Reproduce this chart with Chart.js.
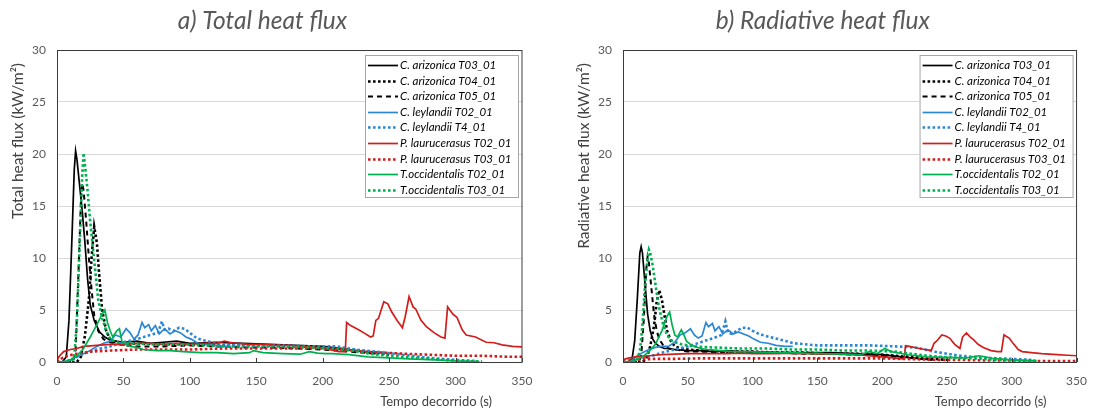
<!DOCTYPE html>
<html>
<head>
<meta charset="utf-8">
<script src="https://cdn.jsdelivr.net/npm/chart.js@4.4.1/dist/chart.umd.min.js"></script>
<style>
  html, body { margin: 0; padding: 0; background: #fff; }
  #wrap { position: relative; width: 1099px; height: 412px; overflow: hidden; }
  #wrap canvas { position: absolute; top: 0; }
</style>
</head>
<body>
<div id="wrap">
  <canvas id="chartTotal" width="550" height="412" style="left:0"></canvas>
  <canvas id="chartRad" width="549" height="412" style="left:550px"></canvas>
</div>
<script>
// heat flux curves: time (s), total and radiative flux (kW/m2)
const seriesLabels = [
  "C. arizonica T03_01", "C. arizonica T04_01", "C. arizonica T05_01",
  "C. leylandii T02_01", "C. leylandii T4_01",
  "P. laurucerasus T02_01", "P. laurucerasus T03_01",
  "T.occidentalis T02_01", "T.occidentalis T03_01"
];

const tArizT03 = [0, 4, 7, 9, 11, 13, 14, 15, 17, 19, 21, 23, 25, 28, 32, 36, 40, 50, 60, 70, 80, 90, 100, 120, 140, 160, 180, 200, 215, 230, 240];
const totArizT03 = [0, 0, 0.5, 4, 11, 18.5, 20.3, 19.5, 17, 14.5, 11.5, 8, 5.5, 4.0, 2.9, 2.4, 2.1, 1.9, 2.0, 1.8, 1.9, 2.0, 1.8, 1.9, 1.8, 1.7, 1.6, 1.5, 1.3, 1.0, 0.8];
const radArizT03 = [0, 0, 0.3, 2, 6, 10.5, 11.1, 10.5, 7.5, 4.6, 3.0, 2.2, 1.8, 1.5, 1.3, 1.3, 1.2, 1.1, 1.1, 1.0, 1.1, 1.0, 1.0, 0.9, 0.9, 0.9, 0.8, 0.7, 0.5, 0.3, 0.2];

const tArizT04 = [0, 15, 18, 21, 24, 26, 28, 30, 32, 34, 37, 40, 45, 50, 60, 80, 100, 120, 140, 160, 180, 200, 220, 240, 250];
const totArizT04 = [0, 0, 0.5, 2.5, 6, 10, 13, 11.5, 8, 5, 3, 2.2, 1.8, 1.7, 1.8, 1.7, 1.7, 1.6, 1.7, 1.6, 1.5, 1.4, 1.2, 0.9, 0.7];
const radArizT04 = [0, 0, 0.3, 1.5, 3.5, 5.8, 6.9, 6.0, 4.5, 3.0, 2.0, 1.5, 1.3, 1.2, 1.1, 1.0, 1.0, 0.9, 0.9, 0.8, 0.8, 0.7, 0.5, 0.3, 0.2];

const tArizT05 = [0, 12, 14, 16, 18, 19, 20, 22, 24, 26, 28, 31, 35, 40, 50, 60, 80, 100, 120, 140, 160, 180, 200, 220, 240];
const totArizT05 = [0, 0, 1, 8, 15.5, 17.2, 16.5, 13.5, 10, 7, 4.5, 3, 2.2, 1.9, 1.6, 1.5, 1.5, 1.6, 1.5, 1.4, 1.4, 1.3, 1.2, 1.0, 0.8];
const radArizT05 = [0, 0, 0.5, 4, 9, 10.1, 9.5, 7, 4.5, 3, 2.2, 1.6, 1.3, 1.2, 1.0, 1.0, 0.9, 0.9, 0.9, 0.8, 0.8, 0.7, 0.6, 0.4, 0.2];

const tLeyT02 = [0, 5, 10, 15, 20, 25, 30, 35, 40, 44, 48, 52, 55, 58, 61, 64, 66, 69, 71, 74, 77, 81, 85, 89, 93, 97, 101, 106, 112, 118, 125, 131];
const totLeyT02 = [0, 0, 0.2, 0.5, 0.8, 1.1, 1.5, 1.8, 2.0, 2.6, 2.4, 3.2, 2.8, 2.2, 2.6, 3.8, 3.3, 3.6, 3.0, 3.5, 2.7, 3.2, 2.7, 3.0, 2.8, 2.4, 2.2, 1.8, 1.7, 1.6, 1.5, 1.4];
const radLeyT02 = [0, 0, 0.5, 0.9, 1.2, 1.4, 1.5, 1.5, 1.9, 2.6, 2.8, 3.2, 2.6, 2.3, 2.5, 3.8, 3.4, 3.7, 3.0, 3.4, 2.7, 3.1, 2.7, 2.9, 2.7, 2.5, 2.2, 1.9, 1.8, 1.6, 1.5, 1.5];

const tLeyT4 = [0, 5, 10, 20, 30, 40, 50, 60, 70, 76, 79, 81, 84, 88, 92, 96, 100, 105, 110, 120, 132, 150, 170, 190, 210, 225, 240, 260, 280, 300, 315];
const totLeyT4 = [0, 0, 0.2, 0.8, 1.2, 1.5, 1.9, 2.2, 2.6, 2.8, 3.9, 3.1, 3.2, 3.0, 3.3, 3.2, 2.8, 2.3, 2.1, 1.8, 1.6, 1.6, 1.6, 1.5, 1.5, 1.2, 1.0, 0.7, 0.4, 0.2, 0.1];
const radLeyT4 = [0, 0, 0.2, 0.5, 0.9, 1.2, 1.5, 1.9, 2.3, 2.6, 3.9, 2.8, 2.7, 3.0, 3.3, 3.3, 3.0, 2.7, 2.5, 2.2, 1.8, 1.6, 1.6, 1.6, 1.5, 1.4, 1.0, 0.6, 0.4, 0.3, 0.2];

const tLauT02 = [0, 2, 5, 10, 15, 20, 30, 40, 50, 60, 70, 80, 90, 100, 110, 120, 126, 130, 135, 145, 155, 165, 175, 185, 195, 205, 212, 217, 218, 221, 227, 231, 236, 238, 240, 242, 246, 249, 252, 256, 260, 262, 265, 268, 270, 274, 278, 284, 289, 292, 294, 298, 301, 305, 308, 315, 323, 329, 335, 343, 350];
const totLauT02 = [0.2, 0.6, 1.0, 1.2, 1.3, 1.5, 1.6, 1.7, 1.7, 1.8, 1.8, 1.7, 1.8, 1.7, 1.8, 1.8, 2.0, 1.9, 1.8, 1.7, 1.7, 1.6, 1.6, 1.5, 1.4, 1.2, 1.0, 1.0, 3.8, 3.5, 3.1, 2.8, 2.4, 2.5, 4.0, 4.2, 5.8, 5.6, 4.8, 4.0, 3.3, 4.3, 6.3, 5.3, 5.1, 4.0, 3.4, 2.8, 2.4, 2.3, 5.3, 4.6, 4.3, 3.1, 2.6, 2.4, 1.9, 1.85, 1.65, 1.5, 1.45];
const radLauT02 = [0.2, 0.3, 0.4, 0.5, 0.55, 0.6, 0.7, 0.75, 0.8, 0.8, 0.8, 0.8, 0.85, 0.8, 0.8, 0.8, 0.85, 0.8, 0.8, 0.8, 0.75, 0.75, 0.7, 0.65, 0.55, 0.45, 0.35, 0.3, 1.57, 1.5, 1.35, 1.25, 1.15, 1.15, 1.8, 2.0, 2.6, 2.5, 2.3, 1.7, 1.3, 2.4, 2.8, 2.4, 2.2, 1.7, 1.4, 1.1, 1.0, 1.0, 2.6, 2.3, 1.8, 1.2, 1.0, 0.9, 0.8, 0.75, 0.7, 0.65, 0.6];

const tLauT03 = [0, 3, 8, 15, 25, 40, 60, 80, 100, 125, 150, 175, 200, 215, 230, 245, 260, 280, 300, 320, 340, 350];
const totLauT03 = [0, 0.3, 0.6, 0.8, 1.0, 1.1, 1.2, 1.2, 1.2, 1.3, 1.3, 1.3, 1.3, 1.2, 1.0, 0.9, 0.8, 0.7, 0.6, 0.6, 0.5, 0.5];
const radLauT03 = [0, 0.1, 0.2, 0.25, 0.3, 0.3, 0.35, 0.35, 0.35, 0.35, 0.35, 0.35, 0.35, 0.3, 0.25, 0.2, 0.2, 0.15, 0.15, 0.1, 0.1, 0.1];

const tOccT02 = [0, 5, 10, 15, 20, 25, 30, 34, 36, 38, 40, 42, 45, 47, 49, 52, 55, 60, 65, 75, 85, 95, 108, 120, 133, 145, 148, 155, 170, 183, 190, 196, 202, 207, 220, 234, 250, 265, 275, 285, 300, 318];
const totOccT02 = [0, 0, 0.2, 0.6, 1.3, 2.4, 3.6, 4.6, 5.0, 3.8, 3.0, 2.4, 3.0, 3.2, 1.9, 1.7, 1.5, 1.4, 1.2, 1.1, 1.1, 1.0, 0.9, 0.9, 0.8, 0.9, 1.1, 0.9, 0.8, 0.75, 1.0, 0.85, 0.8, 0.8, 0.7, 0.5, 0.4, 0.3, 0.25, 0.2, 0.1, 0.05];
const radOccT02 = [0, 0, 0.2, 0.5, 1.0, 1.7, 3.0, 4.4, 4.8, 3.5, 2.6, 2.4, 3.1, 2.6, 2.0, 1.7, 1.5, 1.3, 1.2, 1.1, 1.0, 1.0, 0.95, 0.9, 0.9, 0.8, 0.85, 0.8, 0.75, 0.7, 1.0, 0.8, 1.3, 1.0, 0.7, 0.5, 0.45, 0.4, 0.6, 0.35, 0.2, 0.1];

const tOccT03 = [0, 10, 13, 15, 17, 19, 20, 21, 23, 25, 27, 29, 31, 34, 37, 40, 45, 55, 70, 90, 110, 130, 150, 170, 190, 210, 222, 235, 250, 270, 290, 305, 320];
const totOccT03 = [0, 0, 0.5, 4, 11, 18, 20.1, 19, 16.5, 13.5, 11, 8.5, 6, 4.2, 3.0, 2.2, 1.9, 1.8, 1.7, 1.7, 1.6, 1.5, 1.5, 1.5, 1.4, 1.3, 1.1, 0.8, 0.6, 0.4, 0.2, 0.1, 0.05];
const radOccT03 = [0, 0, 1.0, 3.5, 7.5, 10, 10.8, 10.5, 9.2, 7.5, 5.8, 4.6, 3.6, 2.6, 2.1, 1.9, 1.7, 1.5, 1.4, 1.3, 1.3, 1.2, 1.2, 1.1, 1.1, 1.0, 0.8, 0.6, 0.45, 0.35, 0.2, 0.15, 0.1];

const seriesTimes = [tArizT03, tArizT04, tArizT05, tLeyT02, tLeyT4, tLauT02, tLauT03, tOccT02, tOccT03];
const totalValues = [totArizT03, totArizT04, totArizT05, totLeyT02, totLeyT4, totLauT02, totLauT03, totOccT02, totOccT03];
const radValues = [radArizT03, radArizT04, radArizT05, radLeyT02, radLeyT4, radLauT02, radLauT03, radOccT02, radOccT03];

const xMax = 350, xStep = 50;
const yMax = 30, yStep = 5;

// looks
const lineColors = ["#000000", "#000000", "#000000", "#2b87d3", "#2b87d3", "#d21d1d", "#d21d1d", "#00b050", "#00b050"];
const lineKinds = ["solid", "dot", "dash", "solid", "dot", "solid", "dot", "solid", "dot"];
const FONT = "Lato, 'Open Sans', 'Liberation Sans', sans-serif";

function lineStyle(kind) {
  if (kind === "dot") return { borderWidth: 2.6, borderDash: [2.6, 2.4] };
  if (kind === "dash") return { borderWidth: 2, borderDash: [5, 4] };
  return { borderWidth: 1.7, borderDash: [] };
}

function makeDatasets(values) {
  return seriesLabels.map((label, i) => Object.assign({
    label: label,
    data: seriesTimes[i].map((t, k) => ({ x: t, y: values[i][k] })),
    borderColor: lineColors[i],
    backgroundColor: lineColors[i],
    pointRadius: 0,
    tension: 0,
    fill: false,
    borderCapStyle: "butt",
    order: seriesLabels.length - i
  }, lineStyle(lineKinds[i])));
}

// frame, inward ticks, titles and the boxed legend
const decor = {
  id: "decor",
  afterDraw(chart, args, opts) {
    const { ctx, chartArea: a, scales } = chart;
    ctx.save();

    ctx.strokeStyle = "#3a3a3a";
    ctx.lineWidth = 1;
    ctx.strokeRect(a.left + 0.5, a.top + 0.5, a.right - a.left - 0.5, a.bottom - a.top);
    scales.x.ticks.forEach(tk => {
      const px = Math.round(scales.x.getPixelForValue(tk.value)) + 0.5;
      ctx.beginPath();
      ctx.moveTo(px, a.bottom);
      ctx.lineTo(px, a.bottom - 4);
      ctx.stroke();
    });

    ctx.fillStyle = "#595959";
    ctx.font = "italic 24.5px " + FONT;
    ctx.textAlign = "center";
    ctx.textBaseline = "middle";
    ctx.fillText(opts.title, (a.left + a.right) / 2 - 27, 21);

    ctx.fillStyle = "#404040";
    ctx.font = "13px " + FONT;
    ctx.textAlign = "right";
    ctx.textBaseline = "middle";
    ctx.fillText("Tempo decorrido (s)", a.right - 30, 402);

    ctx.save();
    ctx.font = "15.5px " + FONT;
    ctx.translate(a.left - 39, 63);
    ctx.rotate(-Math.PI / 2);
    ctx.fillText(opts.yTitle, 0, 0);
    ctx.restore();

    // legend box
    const bw = 153, bh = 142;
    const bx = a.right - 4 - bw, by = a.top + 5;
    ctx.fillStyle = "#ffffff";
    ctx.fillRect(bx, by, bw, bh);
    ctx.strokeStyle = "#a6a6a6";
    ctx.strokeRect(bx + 0.5, by + 0.5, bw, bh);
    ctx.font = "italic 11.5px " + FONT;
    ctx.textAlign = "left";
    ctx.textBaseline = "middle";
    chart.data.datasets.forEach((ds, i) => {
      const cy = Math.round(by + 10 + i * 15.6) + 0.5;
      ctx.strokeStyle = ds.borderColor;
      ctx.lineWidth = ds.borderWidth;
      ctx.setLineDash(ds.borderDash);
      ctx.beginPath();
      ctx.moveTo(bx + 3, cy);
      ctx.lineTo(bx + 33, cy);
      ctx.stroke();
      ctx.setLineDash([]);
      ctx.fillStyle = "#000000";
      ctx.fillText(ds.label, bx + 35, cy);
    });
    ctx.restore();
  }
};

function makeChart(id, values, title, yTitle, axisWidth, rightPad) {
  return new Chart(document.getElementById(id), {
    type: "line",
    data: { datasets: makeDatasets(values) },
    plugins: [decor],
    options: {
      responsive: false,
      animation: false,
      devicePixelRatio: 1,
      layout: { padding: { top: 50, right: rightPad, left: 0, bottom: 0 } },
      plugins: {
        legend: { display: false },
        tooltip: { enabled: false },
        decor: { title: title, yTitle: yTitle }
      },
      scales: {
        x: {
          type: "linear",
          min: 0, max: xMax,
          ticks: { stepSize: xStep, color: "#595959", padding: 12, font: { family: FONT, size: 12 } },
          grid: { display: false, drawTicks: false },
          border: { display: false },
          afterFit(s) { s.height = 50; }
        },
        y: {
          min: 0, max: yMax,
          ticks: { stepSize: yStep, color: "#595959", padding: 11, font: { family: FONT, size: 12 } },
          grid: { color: "#d9d9d9", lineWidth: 1, drawTicks: false },
          border: { display: false },
          afterFit(s) { s.width = axisWidth; }
        }
      }
    }
  });
}

makeChart("chartTotal", totalValues, "a) Total heat flux", "Total heat flux (kW/m\u00b2)", 57, 28);
makeChart("chartRad", radValues, "b) Radiative heat flux", "Radiative heat flux (kW/m\u00b2)", 73, 12);
</script>
</body>
</html>
